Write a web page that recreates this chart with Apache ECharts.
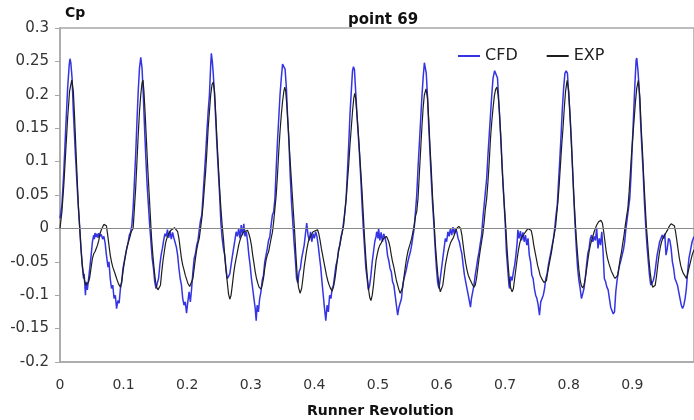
<!DOCTYPE html>
<html><head><meta charset="utf-8">
<script src="https://cdn.jsdelivr.net/npm/echarts@6/dist/echarts.min.js"></script>
<style>html,body{margin:0;padding:0;background:#fff}#c{width:694px;height:420px}</style>
</head><body><div id="c"></div>
<script>
const chartTitle = 'point 69';
const xAxisTitle = 'Runner Revolution';
const yAxisTitle = 'Cp';
const seriesNames = ['CFD', 'EXP'];
const xTicks = {min: 0, max: 0.997, step: 0.1};
const yTicks = {min: -0.2, max: 0.3, step: 0.05};

// CFD: [runner revolution, Cp]
const cfdPoints = [
[0.000,0.015],[0.003,0.035],[0.006,0.085],[0.009,0.150],[0.012,0.210],[0.0145,0.245],[0.0157,0.254],[0.017,0.248],[0.019,0.225],[0.021,0.175],[0.024,0.115],[0.027,0.062],[0.029,0.030],[0.031,0.002],[0.033,-0.030],[0.035,-0.055],[0.037,-0.075],[0.038,-0.068],[0.040,-0.100],[0.041,-0.080],[0.043,-0.092],[0.045,-0.075],[0.047,-0.058],[0.049,-0.040],[0.051,-0.020],[0.053,-0.010],[0.054,-0.016],[0.055,-0.007],[0.057,-0.013],[0.058,-0.008],[0.060,-0.014],[0.061,-0.007],[0.063,-0.012],[0.065,-0.009],[0.067,-0.016],[0.069,-0.012],[0.071,-0.022],[0.073,-0.040],[0.0755,-0.058],[0.077,-0.050],[0.079,-0.075],[0.081,-0.090],[0.083,-0.085],[0.085,-0.105],[0.087,-0.100],[0.089,-0.120],[0.091,-0.108],[0.093,-0.112],[0.095,-0.090],[0.097,-0.080],[0.099,-0.060],[0.101,-0.058],[0.103,-0.040],[0.105,-0.030],[0.107,-0.022],[0.109,-0.010],[0.111,-0.006],[0.113,0.005],[0.115,0.030],[0.117,0.070],[0.119,0.110],[0.121,0.160],[0.123,0.205],[0.125,0.240],[0.127,0.256],[0.129,0.240],[0.131,0.200],[0.133,0.150],[0.135,0.105],[0.137,0.065],[0.139,0.035],[0.141,0.005],[0.143,-0.020],[0.145,-0.045],[0.147,-0.060],[0.149,-0.080],[0.151,-0.090],[0.153,-0.082],[0.155,-0.075],[0.157,-0.055],[0.159,-0.040],[0.161,-0.030],[0.163,-0.018],[0.165,-0.008],[0.167,-0.012],[0.169,-0.002],[0.171,-0.014],[0.173,-0.004],[0.175,-0.016],[0.177,-0.006],[0.179,-0.014],[0.181,-0.012],[0.183,-0.028],[0.185,-0.040],[0.187,-0.060],[0.189,-0.075],[0.191,-0.085],[0.193,-0.105],[0.195,-0.115],[0.197,-0.110],[0.199,-0.127],[0.201,-0.110],[0.203,-0.095],[0.205,-0.110],[0.207,-0.090],[0.209,-0.065],[0.211,-0.045],[0.213,-0.038],[0.215,-0.025],[0.217,-0.018],[0.219,-0.002],[0.221,0.012],[0.223,0.020],[0.225,0.050],[0.227,0.080],[0.229,0.110],[0.231,0.145],[0.233,0.175],[0.235,0.200],[0.237,0.245],[0.238,0.262],[0.2395,0.250],[0.241,0.232],[0.243,0.200],[0.245,0.160],[0.247,0.120],[0.249,0.085],[0.251,0.050],[0.253,0.008],[0.255,-0.015],[0.257,-0.030],[0.259,-0.040],[0.261,-0.060],[0.263,-0.075],[0.265,-0.072],[0.267,-0.068],[0.269,-0.055],[0.271,-0.042],[0.273,-0.030],[0.275,-0.018],[0.277,-0.005],[0.279,-0.012],[0.281,0.000],[0.283,-0.015],[0.285,0.005],[0.287,-0.010],[0.289,0.007],[0.291,-0.012],[0.293,-0.005],[0.295,-0.020],[0.297,-0.040],[0.299,-0.055],[0.301,-0.075],[0.303,-0.090],[0.305,-0.105],[0.307,-0.120],[0.3085,-0.138],[0.310,-0.115],[0.312,-0.125],[0.314,-0.105],[0.316,-0.095],[0.318,-0.078],[0.320,-0.070],[0.322,-0.050],[0.324,-0.040],[0.326,-0.030],[0.328,-0.018],[0.330,-0.012],[0.332,0.005],[0.334,0.020],[0.336,0.025],[0.338,0.045],[0.340,0.090],[0.342,0.130],[0.344,0.165],[0.346,0.200],[0.348,0.225],[0.350,0.246],[0.352,0.248],[0.354,0.238],[0.356,0.210],[0.358,0.165],[0.360,0.130],[0.362,0.080],[0.364,0.040],[0.366,0.010],[0.368,-0.020],[0.370,-0.045],[0.372,-0.075],[0.374,-0.082],[0.376,-0.065],[0.378,-0.060],[0.380,-0.045],[0.382,-0.035],[0.384,-0.025],[0.386,-0.008],[0.388,0.008],[0.390,-0.010],[0.392,-0.018],[0.394,-0.005],[0.396,-0.020],[0.398,-0.008],[0.400,-0.015],[0.402,-0.005],[0.404,-0.012],[0.406,-0.025],[0.408,-0.042],[0.410,-0.058],[0.412,-0.080],[0.414,-0.100],[0.416,-0.120],[0.418,-0.138],[0.420,-0.115],[0.422,-0.125],[0.424,-0.100],[0.426,-0.105],[0.428,-0.090],[0.430,-0.085],[0.432,-0.070],[0.434,-0.055],[0.436,-0.048],[0.438,-0.032],[0.440,-0.025],[0.442,-0.012],[0.444,-0.005],[0.446,0.010],[0.448,0.025],[0.450,0.045],[0.452,0.085],[0.454,0.125],[0.456,0.170],[0.458,0.204],[0.460,0.236],[0.4615,0.242],[0.463,0.238],[0.465,0.205],[0.467,0.170],[0.469,0.140],[0.471,0.110],[0.473,0.075],[0.475,0.035],[0.477,0.000],[0.479,-0.030],[0.481,-0.060],[0.483,-0.075],[0.485,-0.092],[0.487,-0.085],[0.489,-0.070],[0.491,-0.050],[0.493,-0.035],[0.495,-0.020],[0.497,-0.012],[0.498,-0.005],[0.500,-0.015],[0.501,0.000],[0.503,-0.018],[0.505,-0.006],[0.507,-0.020],[0.509,-0.008],[0.511,-0.014],[0.513,-0.022],[0.515,-0.040],[0.517,-0.048],[0.519,-0.060],[0.521,-0.065],[0.523,-0.080],[0.525,-0.085],[0.527,-0.100],[0.529,-0.115],[0.531,-0.130],[0.533,-0.118],[0.535,-0.120],[0.537,-0.105],[0.539,-0.085],[0.541,-0.075],[0.543,-0.068],[0.545,-0.060],[0.547,-0.050],[0.549,-0.042],[0.551,-0.035],[0.553,-0.025],[0.555,-0.012],[0.557,0.000],[0.559,0.025],[0.561,0.050],[0.563,0.090],[0.565,0.125],[0.567,0.160],[0.569,0.195],[0.571,0.225],[0.573,0.248],[0.5745,0.250],[0.576,0.232],[0.578,0.195],[0.580,0.150],[0.582,0.110],[0.584,0.070],[0.586,0.035],[0.588,0.005],[0.590,-0.030],[0.592,-0.060],[0.594,-0.082],[0.596,-0.090],[0.598,-0.075],[0.600,-0.060],[0.602,-0.045],[0.604,-0.030],[0.606,-0.015],[0.608,-0.020],[0.610,-0.005],[0.612,-0.012],[0.614,0.000],[0.616,-0.010],[0.618,0.002],[0.620,-0.008],[0.622,0.000],[0.624,-0.005],[0.626,-0.015],[0.628,-0.020],[0.630,-0.030],[0.632,-0.038],[0.634,-0.055],[0.636,-0.070],[0.638,-0.080],[0.640,-0.090],[0.642,-0.100],[0.644,-0.110],[0.6455,-0.118],[0.647,-0.105],[0.649,-0.095],[0.651,-0.085],[0.653,-0.070],[0.655,-0.058],[0.657,-0.045],[0.659,-0.035],[0.661,-0.022],[0.663,-0.010],[0.665,0.015],[0.667,0.035],[0.669,0.055],[0.671,0.075],[0.673,0.110],[0.675,0.140],[0.677,0.170],[0.679,0.200],[0.681,0.225],[0.6835,0.236],[0.686,0.236],[0.688,0.225],[0.690,0.190],[0.692,0.155],[0.694,0.120],[0.696,0.080],[0.698,0.045],[0.700,0.010],[0.702,-0.035],[0.704,-0.060],[0.706,-0.085],[0.707,-0.090],[0.709,-0.072],[0.711,-0.078],[0.713,-0.065],[0.715,-0.055],[0.717,-0.040],[0.719,-0.020],[0.720,-0.002],[0.722,-0.015],[0.724,-0.004],[0.726,-0.018],[0.728,-0.006],[0.730,-0.020],[0.732,-0.010],[0.734,-0.025],[0.736,-0.015],[0.738,-0.040],[0.740,-0.050],[0.742,-0.070],[0.744,-0.075],[0.746,-0.090],[0.748,-0.100],[0.750,-0.105],[0.752,-0.115],[0.754,-0.130],[0.756,-0.110],[0.758,-0.105],[0.760,-0.100],[0.762,-0.090],[0.764,-0.075],[0.766,-0.068],[0.768,-0.055],[0.770,-0.045],[0.772,-0.035],[0.774,-0.025],[0.776,-0.015],[0.778,0.000],[0.780,0.020],[0.782,0.035],[0.784,0.070],[0.786,0.104],[0.788,0.140],[0.790,0.180],[0.792,0.210],[0.794,0.232],[0.796,0.236],[0.798,0.232],[0.800,0.200],[0.802,0.170],[0.804,0.135],[0.806,0.090],[0.808,0.045],[0.810,0.005],[0.812,-0.030],[0.814,-0.060],[0.816,-0.078],[0.818,-0.090],[0.820,-0.105],[0.822,-0.098],[0.824,-0.090],[0.826,-0.075],[0.828,-0.055],[0.830,-0.038],[0.832,-0.030],[0.834,-0.015],[0.836,-0.010],[0.838,-0.020],[0.840,-0.012],[0.842,-0.018],[0.844,0.000],[0.846,-0.030],[0.848,-0.015],[0.850,-0.025],[0.852,-0.005],[0.854,-0.035],[0.856,-0.075],[0.858,-0.080],[0.860,-0.088],[0.862,-0.092],[0.864,-0.105],[0.866,-0.118],[0.868,-0.120],[0.870,-0.128],[0.872,-0.125],[0.874,-0.095],[0.876,-0.078],[0.878,-0.065],[0.880,-0.055],[0.882,-0.048],[0.884,-0.040],[0.886,-0.032],[0.888,-0.020],[0.890,0.000],[0.892,0.015],[0.894,0.030],[0.896,0.045],[0.898,0.080],[0.900,0.125],[0.902,0.170],[0.904,0.215],[0.906,0.252],[0.907,0.255],[0.909,0.235],[0.911,0.205],[0.913,0.160],[0.915,0.120],[0.917,0.085],[0.919,0.040],[0.921,0.005],[0.923,-0.025],[0.925,-0.048],[0.927,-0.070],[0.929,-0.085],[0.931,-0.082],[0.933,-0.078],[0.935,-0.070],[0.937,-0.055],[0.939,-0.040],[0.941,-0.030],[0.943,-0.020],[0.945,-0.015],[0.947,-0.010],[0.949,-0.015],[0.951,-0.008],[0.953,-0.040],[0.955,-0.030],[0.957,-0.015],[0.959,-0.018],[0.961,-0.030],[0.963,-0.050],[0.965,-0.060],[0.967,-0.075],[0.969,-0.080],[0.971,-0.085],[0.973,-0.095],[0.975,-0.105],[0.977,-0.115],[0.979,-0.120],[0.981,-0.115],[0.983,-0.105],[0.985,-0.090],[0.987,-0.065],[0.989,-0.045],[0.991,-0.035],[0.994,-0.020],[0.997,-0.012]
];

// EXP: [runner revolution, Cp]
const expPoints = [
[0.000,0.000],[0.003,0.025],[0.006,0.065],[0.009,0.115],[0.012,0.165],[0.015,0.205],[0.0185,0.222],[0.021,0.205],[0.023,0.165],[0.025,0.120],[0.027,0.075],[0.029,0.032],[0.031,0.000],[0.033,-0.030],[0.035,-0.055],[0.037,-0.070],[0.039,-0.080],[0.041,-0.085],[0.043,-0.085],[0.045,-0.080],[0.047,-0.072],[0.049,-0.058],[0.051,-0.045],[0.053,-0.038],[0.055,-0.035],[0.057,-0.030],[0.059,-0.025],[0.061,-0.018],[0.063,-0.008],[0.065,-0.002],[0.067,0.002],[0.069,0.006],[0.0715,0.007],[0.073,0.004],[0.075,-0.010],[0.077,-0.025],[0.079,-0.040],[0.081,-0.050],[0.083,-0.058],[0.086,-0.066],[0.089,-0.075],[0.092,-0.083],[0.095,-0.088],[0.097,-0.080],[0.099,-0.065],[0.101,-0.052],[0.103,-0.040],[0.105,-0.030],[0.107,-0.022],[0.110,-0.013],[0.112,-0.005],[0.115,0.000],[0.117,0.030],[0.119,0.060],[0.121,0.100],[0.123,0.140],[0.125,0.175],[0.127,0.200],[0.129,0.218],[0.1305,0.222],[0.132,0.205],[0.134,0.170],[0.136,0.130],[0.138,0.090],[0.140,0.055],[0.142,0.020],[0.144,-0.015],[0.146,-0.040],[0.148,-0.060],[0.150,-0.078],[0.152,-0.088],[0.154,-0.092],[0.156,-0.093],[0.158,-0.085],[0.160,-0.065],[0.162,-0.048],[0.164,-0.035],[0.166,-0.022],[0.168,-0.015],[0.170,-0.010],[0.172,-0.006],[0.174,-0.003],[0.177,-0.001],[0.180,0.001],[0.183,0.002],[0.185,-0.005],[0.187,-0.015],[0.189,-0.030],[0.191,-0.045],[0.193,-0.055],[0.195,-0.062],[0.197,-0.070],[0.199,-0.076],[0.201,-0.082],[0.204,-0.087],[0.2065,-0.088],[0.209,-0.075],[0.211,-0.060],[0.213,-0.045],[0.215,-0.032],[0.217,-0.022],[0.219,-0.015],[0.221,0.000],[0.223,0.015],[0.225,0.035],[0.227,0.060],[0.229,0.085],[0.231,0.115],[0.233,0.150],[0.235,0.175],[0.237,0.200],[0.239,0.215],[0.241,0.219],[0.243,0.205],[0.245,0.170],[0.247,0.130],[0.249,0.095],[0.251,0.060],[0.253,0.030],[0.255,0.005],[0.257,-0.015],[0.259,-0.040],[0.261,-0.062],[0.263,-0.080],[0.265,-0.098],[0.267,-0.106],[0.269,-0.100],[0.271,-0.085],[0.273,-0.068],[0.275,-0.055],[0.277,-0.045],[0.279,-0.035],[0.281,-0.025],[0.283,-0.018],[0.285,-0.012],[0.287,-0.008],[0.289,-0.005],[0.292,-0.003],[0.295,-0.003],[0.297,-0.008],[0.299,-0.015],[0.301,-0.025],[0.303,-0.040],[0.305,-0.052],[0.307,-0.065],[0.309,-0.075],[0.311,-0.082],[0.313,-0.088],[0.316,-0.091],[0.318,-0.085],[0.320,-0.075],[0.322,-0.060],[0.324,-0.048],[0.326,-0.040],[0.328,-0.035],[0.330,-0.025],[0.332,-0.015],[0.334,-0.006],[0.336,0.010],[0.338,0.030],[0.340,0.050],[0.342,0.080],[0.344,0.115],[0.346,0.145],[0.348,0.170],[0.350,0.190],[0.352,0.205],[0.3535,0.2115],[0.355,0.205],[0.357,0.180],[0.359,0.150],[0.361,0.115],[0.363,0.085],[0.365,0.055],[0.367,0.025],[0.369,-0.005],[0.371,-0.040],[0.373,-0.070],[0.375,-0.088],[0.3775,-0.097],[0.380,-0.090],[0.382,-0.075],[0.384,-0.058],[0.386,-0.045],[0.388,-0.032],[0.390,-0.022],[0.392,-0.015],[0.395,-0.010],[0.398,-0.005],[0.401,-0.003],[0.405,-0.002],[0.407,-0.008],[0.409,-0.018],[0.411,-0.030],[0.413,-0.040],[0.415,-0.050],[0.417,-0.060],[0.419,-0.070],[0.421,-0.078],[0.423,-0.084],[0.425,-0.089],[0.428,-0.094],[0.430,-0.088],[0.432,-0.078],[0.434,-0.064],[0.436,-0.048],[0.438,-0.035],[0.440,-0.025],[0.442,-0.015],[0.444,-0.005],[0.446,0.004],[0.448,0.025],[0.450,0.045],[0.452,0.070],[0.454,0.095],[0.456,0.125],[0.458,0.150],[0.460,0.175],[0.462,0.195],[0.4635,0.202],[0.465,0.195],[0.467,0.170],[0.469,0.145],[0.471,0.115],[0.473,0.085],[0.475,0.055],[0.477,0.020],[0.479,-0.015],[0.481,-0.045],[0.483,-0.070],[0.485,-0.090],[0.487,-0.103],[0.489,-0.108],[0.491,-0.100],[0.493,-0.085],[0.495,-0.065],[0.497,-0.048],[0.499,-0.038],[0.501,-0.030],[0.503,-0.025],[0.505,-0.022],[0.507,-0.018],[0.509,-0.015],[0.511,-0.013],[0.513,-0.012],[0.515,-0.015],[0.517,-0.020],[0.519,-0.028],[0.521,-0.040],[0.523,-0.050],[0.525,-0.058],[0.527,-0.068],[0.529,-0.078],[0.531,-0.085],[0.533,-0.092],[0.535,-0.097],[0.537,-0.098],[0.539,-0.088],[0.541,-0.072],[0.543,-0.058],[0.545,-0.045],[0.547,-0.035],[0.549,-0.028],[0.551,-0.022],[0.553,-0.015],[0.555,-0.005],[0.557,0.005],[0.559,0.018],[0.561,0.025],[0.563,0.045],[0.565,0.080],[0.567,0.115],[0.569,0.150],[0.571,0.180],[0.573,0.200],[0.5755,0.209],[0.578,0.195],[0.580,0.160],[0.582,0.120],[0.584,0.085],[0.586,0.045],[0.588,0.015],[0.590,-0.020],[0.592,-0.045],[0.594,-0.068],[0.596,-0.085],[0.598,-0.095],[0.600,-0.097],[0.602,-0.085],[0.604,-0.070],[0.606,-0.055],[0.608,-0.045],[0.610,-0.035],[0.612,-0.028],[0.614,-0.022],[0.616,-0.018],[0.618,-0.015],[0.620,-0.010],[0.622,-0.005],[0.624,0.000],[0.627,0.003],[0.630,0.000],[0.632,-0.010],[0.634,-0.025],[0.636,-0.040],[0.638,-0.052],[0.640,-0.062],[0.642,-0.070],[0.645,-0.077],[0.648,-0.083],[0.651,-0.088],[0.653,-0.085],[0.655,-0.075],[0.657,-0.060],[0.659,-0.045],[0.661,-0.032],[0.663,-0.020],[0.665,-0.008],[0.667,0.010],[0.669,0.030],[0.671,0.045],[0.673,0.070],[0.675,0.100],[0.677,0.135],[0.679,0.160],[0.681,0.180],[0.683,0.198],[0.685,0.208],[0.687,0.2115],[0.689,0.200],[0.691,0.175],[0.693,0.140],[0.695,0.095],[0.697,0.060],[0.699,0.030],[0.701,0.003],[0.703,-0.030],[0.705,-0.058],[0.707,-0.080],[0.709,-0.090],[0.711,-0.095],[0.713,-0.090],[0.715,-0.075],[0.717,-0.060],[0.719,-0.045],[0.721,-0.032],[0.723,-0.022],[0.725,-0.015],[0.727,-0.012],[0.730,-0.008],[0.733,-0.004],[0.736,0.000],[0.739,0.002],[0.741,-0.003],[0.743,-0.012],[0.745,-0.025],[0.747,-0.035],[0.749,-0.045],[0.751,-0.055],[0.753,-0.062],[0.755,-0.070],[0.758,-0.076],[0.761,-0.081],[0.763,-0.083],[0.765,-0.078],[0.767,-0.065],[0.769,-0.055],[0.771,-0.045],[0.773,-0.035],[0.775,-0.022],[0.777,-0.010],[0.779,0.000],[0.781,0.020],[0.783,0.040],[0.785,0.065],[0.787,0.095],[0.789,0.125],[0.791,0.150],[0.793,0.180],[0.795,0.205],[0.7975,0.2215],[0.800,0.205],[0.802,0.170],[0.804,0.130],[0.806,0.090],[0.808,0.050],[0.810,0.015],[0.812,-0.015],[0.814,-0.040],[0.816,-0.062],[0.818,-0.078],[0.820,-0.086],[0.822,-0.089],[0.824,-0.085],[0.826,-0.075],[0.828,-0.062],[0.830,-0.048],[0.832,-0.035],[0.834,-0.025],[0.836,-0.018],[0.838,-0.012],[0.840,-0.005],[0.842,0.000],[0.844,0.005],[0.847,0.010],[0.8505,0.012],[0.853,0.008],[0.855,-0.005],[0.857,-0.020],[0.859,-0.035],[0.861,-0.045],[0.863,-0.052],[0.865,-0.058],[0.867,-0.064],[0.869,-0.068],[0.871,-0.072],[0.873,-0.075],[0.875,-0.077],[0.877,-0.070],[0.879,-0.058],[0.881,-0.045],[0.883,-0.035],[0.885,-0.022],[0.887,-0.010],[0.889,0.005],[0.891,0.018],[0.893,0.030],[0.895,0.055],[0.897,0.085],[0.899,0.115],[0.901,0.140],[0.903,0.165],[0.905,0.190],[0.907,0.210],[0.9095,0.2215],[0.912,0.195],[0.914,0.150],[0.916,0.115],[0.918,0.075],[0.920,0.040],[0.922,0.005],[0.924,-0.020],[0.926,-0.045],[0.928,-0.065],[0.930,-0.080],[0.932,-0.088],[0.934,-0.090],[0.936,-0.085],[0.938,-0.072],[0.940,-0.055],[0.942,-0.040],[0.944,-0.028],[0.946,-0.020],[0.948,-0.015],[0.950,-0.012],[0.952,-0.008],[0.955,-0.003],[0.958,0.003],[0.961,0.007],[0.963,0.008],[0.966,0.004],[0.968,-0.005],[0.970,-0.018],[0.972,-0.032],[0.974,-0.045],[0.976,-0.055],[0.978,-0.062],[0.980,-0.067],[0.982,-0.070],[0.985,-0.075],[0.987,-0.068],[0.989,-0.060],[0.991,-0.052],[0.994,-0.040],[0.997,-0.032]
];

const FONT = 'DejaVu Sans';
const chart = echarts.init(document.getElementById('c'), null, {renderer: 'canvas'});
chart.setOption({
  animation: false,
  backgroundColor: '#ffffff',
  title: {
    text: chartTitle, left: 343, top: 8,
    textStyle: {fontFamily: FONT, fontSize: 15, fontWeight: 'bold', color: '#111'}
  },
  legend: {
    data: seriesNames, left: 453, top: 43, itemWidth: 22, itemHeight: 2, itemGap: 29,
    icon: 'rect',
    textStyle: {fontFamily: FONT, fontSize: 16, color: '#222'}
  },
  grid: {left: 60, top: 28, bottom: 58, right: -2, show: true, borderColor: '#a8a8a8', borderWidth: 1.5, backgroundColor: 'transparent'},
  xAxis: {
    type: 'value', min: xTicks.min, max: xTicks.max, interval: xTicks.step,
    axisLine: {show: true, onZero: false, lineStyle: {color: '#a8a8a8', width: 1.5}},
    axisTick: {show: false},
    splitLine: {show: false},
    axisLabel: {showMaxLabel: false, fontFamily: FONT, fontSize: 14, color: '#333', margin: 16}
  },
  yAxis: {
    type: 'value', min: yTicks.min, max: yTicks.max, interval: yTicks.step,
    axisLine: {show: true, lineStyle: {color: '#a8a8a8', width: 1.5}},
    axisTick: {show: true, length: 5, lineStyle: {color: '#a8a8a8'}},
    splitLine: {show: false},
    axisLabel: {fontFamily: FONT, fontSize: 15, color: '#333', margin: 11}
  },
  graphic: [
    {type: 'text', left: 65, top: 6, style: {text: yAxisTitle, font: 'bold 14px "DejaVu Sans"', fill: '#111'}},
    {type: 'text', left: 307, top: 404, style: {text: xAxisTitle, font: 'bold 14px "DejaVu Sans"', fill: '#111'}}
  ],
  series: [
    {
      name: seriesNames[0], type: 'line', data: cfdPoints, showSymbol: false, symbol: 'none',
      lineStyle: {color: '#3434e4', width: 1.5}, itemStyle: {color: '#3434e4'}, z: 3,
      markLine: {
        silent: true, symbol: 'none', label: {show: false},
        lineStyle: {color: '#8a8a8a', width: 1, type: 'solid'},
        data: [{yAxis: 0}]
      }
    },
    {
      name: seriesNames[1], type: 'line', data: expPoints, showSymbol: false, symbol: 'none',
      lineStyle: {color: '#1e1e1e', width: 1.2}, itemStyle: {color: '#1e1e1e'}, z: 4
    }
  ]
});
</script>
</body></html>
